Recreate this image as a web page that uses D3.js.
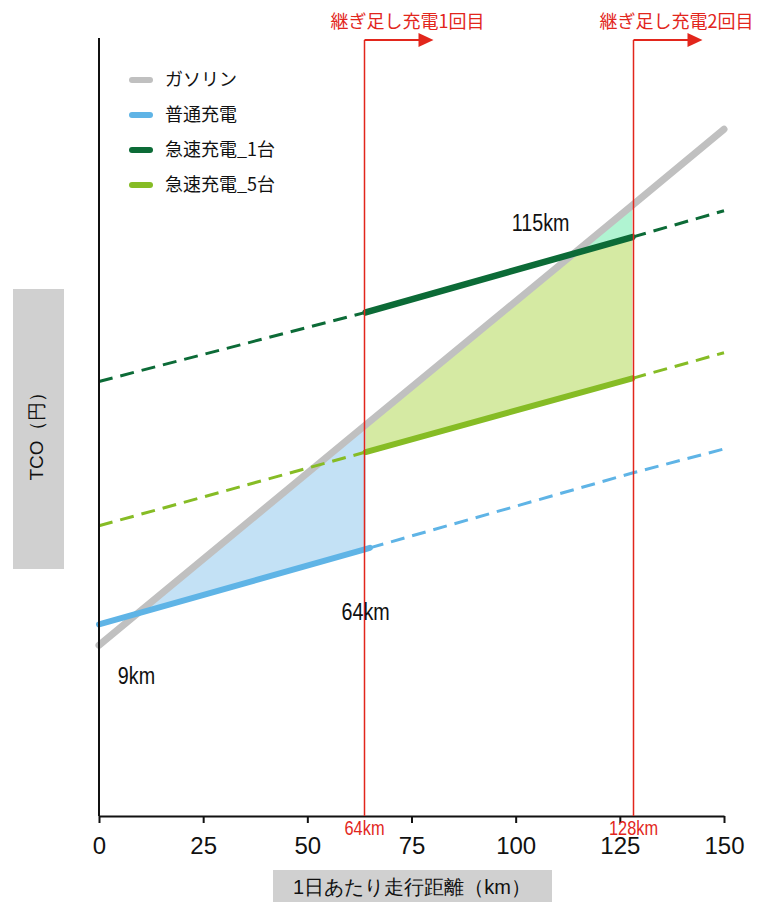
<!DOCTYPE html>
<html>
<head>
<meta charset="utf-8">
<script src="https://cdn.jsdelivr.net/npm/d3@7"></script>
<style>
  html, body { margin: 0; padding: 0; background: #fff; }
  svg { display: block; }
</style>
</head>
<body>
<svg id="chart" width="757" height="902"></svg>
<script>
// Daily driving distance (km) at which each TCO value is read
const distanceKm = [0, 64, 128, 150];
// TCO (relative units) per series at those distances
const gasoline = [22.0, 50.4, 78.7, 88.5];
const normalCharge = [24.7, 34.4, 44.2, 47.3];
const fastCharge1 = [56.0, 64.9, 74.6, 78.0];
const fastCharge5 = [37.4, 46.9, 56.4, 59.7];

const xTicks = [0, 25, 50, 75, 100, 125, 150];
const legendLabels = ["ガソリン", "普通充電", "急速充電_1台", "急速充電_5台"];
const rechargeKm = [64, 128];
const rechargeLabels = ["継ぎ足し充電1回目", "継ぎ足し充電2回目"];
const rechargeKmLabels = ["64km", "128km"];
// crossover annotations: [km, TCO, text]
const crossLabels = [[9, 17.0, "9km"], [64, 25.3, "64km"], [106, 75.4, "115km"]];

const COLORS = {
  gas: "#c0c0c0", normal: "#5fb4e6", fast1: "#0c6b37", fast5: "#86bc25",
  blueFill: "#c3e1f5", greenFill: "#d5eaa3", mintFill: "#b0f4d2",
  red: "#e2261c", box: "#d0d0d0"
};
const SANS = "'Liberation Sans', Arial, sans-serif";
const JP = "'Noto Sans CJK JP', 'Noto Sans', sans-serif";

const svg = d3.select("#chart");
const x = d3.scaleLinear().domain([0, 150]).range([99, 724]);
const y = d3.scaleLinear().domain([0, 100]).range([816, 40]);

// linear reading between the sampled distances
function valueAt(series, km) {
  for (let i = 0; i < distanceKm.length - 1; i++) {
    const a = distanceKm[i], b = distanceKm[i + 1];
    if (km >= a && km <= b) {
      const t = (km - a) / (b - a);
      return series[i] + t * (series[i + 1] - series[i]);
    }
  }
  return series[series.length - 1];
}
// distance where two series cross within [from, to]
function crossing(s1, s2, from, to) {
  const d1 = valueAt(s1, from) - valueAt(s2, from);
  const d2 = valueAt(s1, to) - valueAt(s2, to);
  return from + (to - from) * d1 / (d1 - d2);
}
function pts(series, from, to) {
  const ks = [from, ...distanceKm.filter(k => k > from && k < to), to];
  return ks.map(k => [k, valueAt(series, k)]);
}
// condensed label (horizontally squeezed sans)
function narrowText(px, py, size, color, t) {
  return svg.append("text").attr("transform", `translate(${px},${py}) scale(0.84,1)`)
    .attr("text-anchor", "middle").attr("font-family", SANS).attr("font-size", size)
    .attr("fill", color).text(t);
}

const line = d3.line().x(d => x(d[0])).y(d => y(d[1]));

// axis-title boxes
svg.append("rect").attr("x", 13).attr("y", 289).attr("width", 51).attr("height", 280).attr("fill", COLORS.box);
svg.append("text").attr("transform", "translate(43,432) rotate(-90)")
  .attr("text-anchor", "middle").attr("font-family", SANS).attr("font-size", 19).attr("fill", "#111")
  .text("TCO（円）");
svg.append("rect").attr("x", 273).attr("y", 870).attr("width", 279).attr("height", 32).attr("fill", COLORS.box);
svg.append("text").attr("x", 412).attr("y", 894).attr("text-anchor", "middle")
  .attr("font-family", SANS).attr("font-size", 20).attr("fill", "#111")
  .text("1日あたり走行距離（km）");

// shaded savings regions
const cross1 = crossing(gasoline, normalCharge, 0, 64);
const cross2 = crossing(gasoline, fastCharge1, 64, 128);
const area = d3.area().x(d => x(d.k)).y0(d => y(d.lo)).y1(d => y(d.hi));

svg.append("path").attr("fill", COLORS.blueFill)
  .attr("d", area([cross1, 64].map(k => ({ k, lo: valueAt(normalCharge, k), hi: valueAt(gasoline, k) }))));
svg.append("path").attr("fill", COLORS.greenFill)
  .attr("d", area([64, cross2, 128].map(k => ({
    k, lo: valueAt(fastCharge5, k), hi: Math.min(valueAt(gasoline, k), valueAt(fastCharge1, k))
  }))));
svg.append("path").attr("fill", COLORS.mintFill)
  .attr("d", area([cross2, 128].map(k => ({ k, lo: valueAt(fastCharge1, k), hi: valueAt(gasoline, k) }))));

// series lines: solid where the charge covers the distance, dashed elsewhere
function drawSeries(series, color, solidFrom, solidTo, width) {
  const g = svg.append("g");
  const dashed = [];
  if (solidFrom > 0) dashed.push([0, solidFrom]);
  if (solidTo < 150) dashed.push([solidTo, 150]);
  dashed.forEach(([a, b]) => {
    g.append("path").attr("d", line(pts(series, a, b))).attr("fill", "none")
      .attr("stroke", color).attr("stroke-width", 3).attr("stroke-dasharray", "14,8");
  });
  g.append("path").attr("d", line(pts(series, solidFrom, solidTo))).attr("fill", "none")
    .attr("stroke", color).attr("stroke-width", width).attr("stroke-linecap", "round");
}
drawSeries(gasoline, COLORS.gas, 0, 150, 7);
drawSeries(normalCharge, COLORS.normal, 0, 65, 6);
drawSeries(fastCharge5, COLORS.fast5, 64, 128, 6);
drawSeries(fastCharge1, COLORS.fast1, 64, 128, 6.5);

// axes
const xAxis = d3.axisBottom(x).tickValues(xTicks).tickSize(7).tickPadding(14).tickSizeOuter(0);
const gx = svg.append("g").attr("transform", `translate(0,${y(0)})`).call(xAxis);
gx.select(".domain").attr("stroke", "#111").attr("stroke-width", 2);
gx.selectAll(".tick line").attr("stroke", "#111").attr("stroke-width", 2);
gx.selectAll(".tick text").attr("font-family", SANS).attr("font-size", 24).attr("fill", "#111");
svg.append("line").attr("x1", x(0)).attr("x2", x(0)).attr("y1", y(100) - 2).attr("y2", y(0))
  .attr("stroke", "#111").attr("stroke-width", 2);

// recharge markers
rechargeKm.forEach((km, i) => {
  const px = Math.round(x(km)) + (i === 0 ? -1.5 : 1.5);
  svg.append("line").attr("x1", px).attr("x2", px).attr("y1", y(100)).attr("y2", y(0))
    .attr("stroke", COLORS.red).attr("stroke-width", 1.5);
  svg.append("line").attr("x1", px).attr("x2", px + 55).attr("y1", y(100)).attr("y2", y(100))
    .attr("stroke", COLORS.red).attr("stroke-width", 2);
  svg.append("path").attr("fill", COLORS.red)
    .attr("d", `M${px + 54},${y(100) - 7}L${px + 69},${y(100)}L${px + 54},${y(100) + 7}Z`);
  svg.append("text").attr("x", px - 34).attr("y", 28).attr("font-family", JP)
    .attr("font-size", 18).attr("fill", COLORS.red).text(rechargeLabels[i]);
  narrowText(px, 835, 19.5, COLORS.red, rechargeKmLabels[i]);
});

// crossover annotations
crossLabels.forEach(([km, v, t]) => narrowText(x(km), y(v), 23.5, "#111", t));

// legend
const legendColors = [COLORS.gas, COLORS.normal, COLORS.fast1, COLORS.fast5];
legendLabels.forEach((lab, i) => {
  const ly = 80 + i * 35;
  svg.append("line").attr("x1", 132).attr("x2", 150).attr("y1", ly).attr("y2", ly)
    .attr("stroke", legendColors[i]).attr("stroke-width", 6).attr("stroke-linecap", "round");
  svg.append("text").attr("x", 165).attr("y", ly + 6).attr("font-family", JP)
    .attr("font-size", 18).attr("fill", "#111").text(lab);
});
</script>
</body>
</html>
